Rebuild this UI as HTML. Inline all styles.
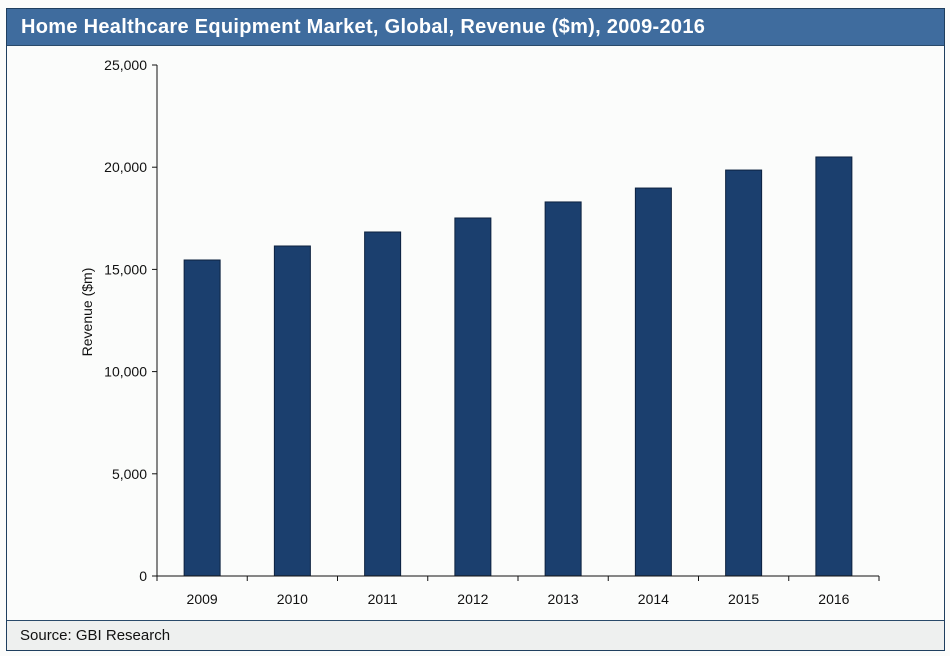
<!DOCTYPE html>
<html><head><meta charset="utf-8"><style>
body{margin:0;background:#fbfcfb;width:950px;height:656px;overflow:hidden;font-family:"Liberation Sans",sans-serif}
#frame{position:absolute;left:6px;top:8px;width:937px;height:641px;border:1px solid #1f3f5f;background:#fbfcfb}
#title{position:absolute;left:0;top:0;width:937px;height:37px;background:#3f6c9e;border-bottom:1px solid #2a4a6a;color:#fff;font-weight:bold;font-size:20px;letter-spacing:0.3px;line-height:37px;padding-left:14px;box-sizing:border-box}
#footer{position:absolute;left:0;top:611px;width:937px;height:30px;background:#eef0ef;border-top:1px solid #2a4a6a;font-size:15px;line-height:30px;padding-left:13px;box-sizing:border-box;color:#111}
svg{position:absolute;left:0;top:0}
</style></head><body>
<div id="frame">
<div id="title">Home Healthcare Equipment Market, Global, Revenue ($m), 2009-2016</div>
<div id="footer">Source: GBI Research</div>
</div>
<svg id="chart" width="950" height="656"></svg>
<script>
const categories=["2009","2010","2011","2012","2013","2014","2015","2016"];
const revenue=[15460,16145,16830,17515,18300,18980,19860,20500];
const yTicks=[0,5000,10000,15000,20000,25000];
const yTickLabels=["0","5,000","10,000","15,000","20,000","25,000"];
const NS="http://www.w3.org/2000/svg";
const svg=document.getElementById('chart');
const X0=157,X1=879,Y0=576,Y1=65,YMAX=25000;
const band=(X1-X0)/categories.length;
const y=v=>Y0-(v/YMAX)*(Y0-Y1);
const xc=i=>X0+band*(i+0.5);
function mk(t,a){const e=document.createElementNS(NS,t);for(const k in a)e.setAttribute(k,a[k]);svg.appendChild(e);return e;}
revenue.forEach((v,i)=>{
 const r=mk('rect',{x:xc(i)-18,y:y(v),width:36,height:Y0-y(v),fill:'#1b3f6e',stroke:'#0d2240','stroke-width':1});
 
 
 const t=mk('text',{x:xc(i),y:604,'text-anchor':'middle','font-size':14,fill:'#111','font-family':'Liberation Sans, sans-serif'});
 t.textContent=categories[i];
 
 
});
const ya=mk('line',{x1:X0,y1:Y1,x2:X0,y2:Y0,stroke:'#111'});


const xa=mk('line',{x1:X0,y1:Y0,x2:X1,y2:Y0,stroke:'#111'});


for(let i=0;i<=categories.length;i++){mk('line',{x1:X0+band*i,y1:Y0,x2:X0+band*i,y2:Y0+5,stroke:'#111'});}
yTicks.forEach((v,i)=>{
 mk('line',{x1:X0-5,y1:y(v),x2:X0,y2:y(v),stroke:'#111'});
 const t=mk('text',{x:X0-10,y:y(v)+5,'text-anchor':'end','font-size':14,fill:'#111','font-family':'Liberation Sans, sans-serif'});
 t.textContent=yTickLabels[i];
 
 
});
const yt=mk('text',{x:0,y:0,'text-anchor':'middle','font-size':14,fill:'#111','font-family':'Liberation Sans, sans-serif',transform:'translate(92,312) rotate(-90)'});
yt.textContent='Revenue ($m)';


</script>
</body></html>
